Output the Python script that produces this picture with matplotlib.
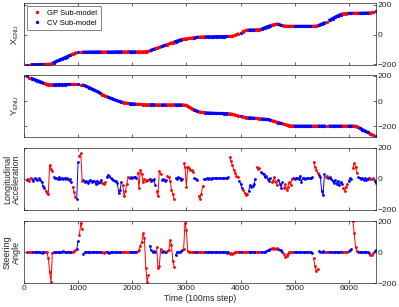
import numpy as np
import matplotlib
matplotlib.use("Agg")
import matplotlib.pyplot as plt
from matplotlib.lines import Line2D

plt.rcParams['font.family'] = ['Liberation Sans', 'DejaVu Sans']
plt.rcParams['mathtext.fontset'] = 'custom'
plt.rcParams['mathtext.rm'] = 'Liberation Sans'
plt.rcParams['mathtext.it'] = 'Liberation Sans'

# time grids (100ms steps)
t_pos = np.arange(50, 6501, 50)
t_sig = np.arange(50, 6501, 25)

# time ranges where the GP sub-model is active (the rest is CV)
gp_ranges = [(75, 125), (400, 540), (900, 960), (1010, 1090), (1440, 1500),
             (1810, 1930), (2090, 2300), (2440, 2530), (2650, 2790), (2930, 3140),
             (3220, 3300), (3790, 3950), (4050, 4130), (4290, 4360), (4560, 4680),
             (4800, 4960), (5340, 5440), (5560, 5600), (5880, 5990), (6070, 6160),
             (6400, 6460)]

x_enu = [-203, -203, -202, -202, -202, -201, -201, -200, -200, -197,
         -188, -180, -172, -164, -156, -148, -140, -132, -124, -119,
         -118, -118, -118, -118, -117, -117, -117, -117, -117, -117,
         -117, -117, -117, -116, -116, -116, -116, -116, -116, -116,
         -116, -116, -116, -116, -115, -112, -105, -98, -92, -86,
         -80, -73, -67, -60, -54, -47, -41, -35, -31, -28,
         -26, -24, -22, -19, -17, -16, -16, -15, -15, -15,
         -14, -14, -14, -14, -13, -13, -12, -5, 3, 12,
         20, 27, 30, 31, 31, 32, 33, 38, 46, 53,
         59, 65, 69, 68, 62, 58, 56, 55, 55, 55,
         55, 55, 55, 55, 55, 55, 56, 57, 62, 70,
         78, 87, 97, 107, 117, 126, 134, 139, 141, 142,
         142, 143, 143, 143, 143, 144, 144, 145, 148, 160]

y_enu = [193, 184, 176, 168, 160, 152, 143, 135, 129, 128,
         128, 128, 129, 129, 129, 130, 130, 130, 130, 130,
         129, 124, 116, 106, 96, 86, 75, 64, 50, 40,
         31, 22, 14, 6, -2, -8, -13, -17, -20, -22,
         -24, -26, -27, -28, -29, -29, -29, -29, -30, -30,
         -30, -30, -30, -30, -30, -30, -30, -30, -31, -35,
         -47, -59, -70, -80, -86, -90, -92, -94, -95, -96,
         -97, -98, -98, -99, -99, -100, -104, -110, -116, -121,
         -126, -130, -132, -133, -135, -137, -139, -141, -143, -145,
         -151, -157, -163, -169, -176, -182, -188, -193, -196, -197,
         -197, -197, -197, -197, -197, -197, -197, -197, -197, -197,
         -197, -197, -197, -197, -197, -197, -197, -197, -197, -197,
         -197, -197, -201, -213, -225, -236, -247, -258, -268, -278]

long_acc = [-5, 3, -10, 8, -2, -15, 5, 0, -8, 4,
            -5, -20, -45, -60, -75, -90, -95, 90, 65, 50,
            10, 5, 8, 0, 12, 3, 6, -3, 8, 2,
            5, -5, -2, -20, -50, -85, -115, -130, 110, 150,
            165, -10, -5, -20, -10, -25, -15, -5, -20, -10,
            -15, -30, -10, -25, -20, -5, -25, -30, -20, 10,
            25, 20, 5, 0, -5, -10, -15, -25, -90, -70,
            -20, -40, -110, -80, -30, 10, 8, 12, 5, 10,
            15, 8, 40, -60, 60, 35, -20, 0, -15, -5,
            -8, 0, -10, -5, -3, -40, -80, -110, 50, 35,
            -5, 0, -10, -5, 20, 10, -10, -70, -100, -130,
            5, 0, 10, 5, -5, 0, 100, 75, -50, 80,
            70, 60, 55, 45, 5, -3, -5, -110, -130, -100,
            -45, 0, 3, 5, 2, 5, 3, 5, 4, 5,
            5, 4, 6, 5, 5, 6, 5, 4, 8, 10,
            140, 115, 90, 60, 40, 20, 10, -10, -30, -55,
            -70, -90, -105, -95, -80, -40, -50, -45, -30, 0,
            75, 65, 70, 45, 40, 30, 10, 20, 0, -15,
            5, -20, -10, 10, -20, -40, -5, -30, -55, -20,
            -60, -35, -70, -50, -20, -40, 0, 5, 3, 5,
            5, 3, 20, -20, 5, 5, 3, 6, 5, 4,
            8, 10, 110, 80, 60, 40, 25, 10, -80, -105,
            30, 15, 20, 5, 10, 0, -10, -25, -5, -35,
            -15, -40, -20, -35, -60, -75, -50, -30, -10, 5,
            0, 70, 100, 80, 40, 10, 5, 0, 8, -5,
            5, -5, 3, 5, -3, 2, 5, -10, -25]

steering = [0, 2, -2, 0, 3, 0, -2, 1, 0, 2,
            0, -3, 2, 0, 0, -2, -40, -130, -195, -3,
            0, 2, 0, -2, 3, 0, 2, 5, 0, -2,
            0, 2, 0, 3, 0, 5, 10, 20, 70, 110,
            190, 150, -10, 0, 3, 0, 2, 0, -2, 0,
            0, 2, 0, -2, 0, 3, 0, -3, 0, 2,
            0, -5, 0, 2, 0, 0, 3, 0, -2, 0,
            0, 2, 0, 0, -2, 0, 3, 0, 0, 2,
            0, 3, 5, 10, 40, 65, 120, 90, -100, -190,
            -150, 40, 10, 0, 5, 0, 30, -100, -90, 20,
            0, 5, 3, 0, 5, 10, 75, 45, -60, -95,
            -20, 0, 3, 0, 5, 10, 20, 190, 140, 5,
            0, 2, 0, -2, 0, 0, 3, 0, 0, -2,
            0, 0, 2, -2, 0, 0, 3, 0, -2, 0,
            0, 2, 0, -2, 0, 0, 2, 0, -3, 0,
            -10, -5, -12, -5, 0, 0, 3, 2, 0, 0,
            0, 2, 0, 0, 3, 0, 0, 2, 0, 0,
            2, 0, 0, 3, 0, 0, 2, 5, 10, 15,
            20, 25, 22, 25, 20, 25, 20, 15, 10, 0,
            -15, -30, -25, -10, 0, 0, 2, 0, 0, 3,
            0, 0, 2, 0, -2, 0, 0, 3, 0, 0,
            0, -5, -40, -90, -125, -110, 5, 3, 0, 5,
            0, 2, 0, 3, 0, 0, -2, 0, 2, 0,
            0, 2, 0, 0, 3, 0, 0, 2, 5, 10,
            20, 200, 120, 30, 5, 0, 2, 0, -2, 0,
            0, 2, 0, -5, -20, -22, -5, 5, 12]

panels = [
    (r'X$_{\mathrm{ENU}}$', t_pos, x_enu, (-205, 211)),
    (r'Y$_{\mathrm{ENU}}$', t_pos, y_enu, (-282, 205)),
    ('Longitudinal\nAcceleration', t_sig, long_acc, (-200, 200)),
    ('Steering\nAngle', t_sig, steering, (-200, 200)),
]

def gp_mask(t):
    m = np.zeros(len(t), dtype=bool)
    for a, b in gp_ranges:
        m |= (t >= a) & (t <= b)
    return m

fig = plt.figure(figsize=(3.99, 3.07), dpi=100)
bottoms = [0.788, 0.554, 0.316, 0.078]
gray = '#262626'

for i, (label, t, vals, ylim) in enumerate(panels):
    ax = fig.add_axes([0.060, bottoms[i], 0.882, 0.202])
    v = np.array(vals, dtype=float)
    gp = gp_mask(t)
    smooth = i < 2
    lw = 2.2 if smooth else 0.7
    ms = 2.4 if smooth else 2.0
    ax.plot(t, np.where(gp, np.nan, v), color='blue', lw=lw, marker='o', ms=ms, mew=0)
    ax.plot(t, np.where(gp, v, np.nan), color='red', lw=lw, marker='o', ms=ms, mew=0)
    ax.set_xlim(0, 6500)
    ax.set_ylim(*ylim)
    ax.set_xticks(range(0, 7000, 1000))
    ax.set_yticks([-200, 0, 200])
    ax.tick_params(direction='in', length=2.5, width=0.5, colors=gray, labelsize=6.1,
                   left=True, right=True, top=True, bottom=True,
                   labelleft=False, labelright=True, pad=1.5)
    for s in ax.spines.values():
        s.set_linewidth(0.5)
        s.set_color(gray)
    ax.set_ylabel(label, fontsize=6.5, color=gray, labelpad=2, linespacing=1.05)
    if i < 3:
        ax.set_xticklabels([])
    else:
        ax.set_xlabel('Time (100ms step)', fontsize=6.2, color=gray, labelpad=1)
    if i == 0:
        handles = [Line2D([], [], color='red', marker='o', ls='none', ms=2.4, mew=0),
                   Line2D([], [], color='blue', marker='o', ls='none', ms=2.4, mew=0)]
        leg = ax.legend(handles, ['GP Sub-model', 'CV Sub-model'], loc='upper left',
                        fontsize=5.5, fancybox=False, borderpad=0.45, handlelength=1.7,
                        handletextpad=0.5, labelspacing=0.3, borderaxespad=0.4)
        leg.get_frame().set_linewidth(0.5)
        leg.get_frame().set_edgecolor(gray)

fig.savefig('out.png', dpi=100)
